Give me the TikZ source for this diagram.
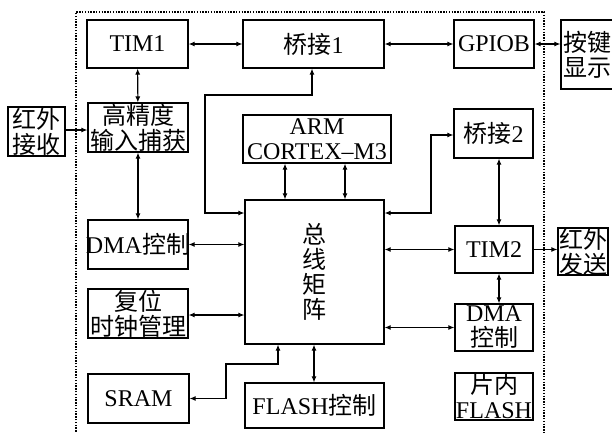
\documentclass[tikz,border=0pt]{standalone}
\usepackage{fontspec}
\setmainfont{Liberation Serif}
\newfontfamily\cjk{Noto Sans CJK SC}
\usepackage{tikz}
\usetikzlibrary{arrows.meta, positioning}
\newcommand{\zh}[1]{{\cjk #1}}

\begin{document}
\begin{tikzpicture}[x=1pt, y=-1pt, font=\fontsize{24}{25}\selectfont,
  blk/.style={draw, line width=1.2pt, inner sep=0pt, align=center},
  link/.style={line width=1.1pt, {Latex[length=6pt,width=5pt]}-{Latex[length=6pt,width=5pt]}},
  onelink/.style={line width=1.1pt, -{Latex[length=6pt,width=5pt]}}]
\useasboundingbox (0,0) rectangle (612,432);
\draw[line width=1.2pt, dash pattern=on 1.4pt off 1.4pt] (76,440) |- (544,12) -- (544,440);
\node[blk, minimum width=101pt, minimum height=48pt] (tim1) at (137.5,44) {TIM1};
\node[blk, minimum width=141pt, minimum height=48pt] (bridgeA) at (313.5,44) {\zh{桥接}1};
\node[blk, minimum width=80pt, minimum height=48pt] (gpiob) at (494,44) {GPIOB};
\node[blk, minimum width=53pt, minimum height=69pt] (keydisp) at (587.5,54.5) {\zh{按键}\\\zh{显示}};
\node[blk, minimum width=57pt, minimum height=49pt] (irrx) at (36.5,131.5) {\zh{红外}\\\zh{接收}};
\node[blk, minimum width=100pt, minimum height=49pt] (capture) at (138,127.5) {\zh{高精度}\\\zh{输入捕获}};
\node[blk, minimum width=148pt, minimum height=48pt] (arm) at (317,139) {ARM\\CORTEX–M3};
\node[blk, minimum width=79pt, minimum height=49pt] (bridgeB) at (493.5,133.5) {\zh{桥接}2};
\node[blk, minimum width=139pt, minimum height=144pt] (bus) at (314.5,272) {\zh{总}\\\zh{线}\\\zh{矩}\\\zh{阵}};
\node[blk, minimum width=100pt, minimum height=49pt] (dmaL) at (138,244.5) {\makebox[90pt]{DMA\zh{控制}}};
\node[blk, minimum width=78pt, minimum height=47pt] (tim2) at (494,249.5) {TIM2};
\node[blk, minimum width=50pt, minimum height=47pt] (irtx) at (583,251.5) {\zh{红外}\\\zh{发送}};
\node[blk, minimum width=100pt, minimum height=49pt] (rcc) at (138,313.5) {\zh{复位}\\\zh{时钟管理}};
\node[blk, minimum width=78pt, minimum height=47pt] (dmaR) at (494,327.5) {DMA\\\zh{控制}};
\node[blk, minimum width=101pt, minimum height=49pt] (sram) at (138.5,398.5) {SRAM};
\node[blk, minimum width=139pt, minimum height=45pt] (flashc) at (314.5,405.5) {FLASH\zh{控制}};
\node[blk, minimum width=78pt, minimum height=47pt] (flashin) at (494,396.5) {\zh{片内}\\FLASH};
\draw[link] (tim1) -- (bridgeA);
\draw[link] (bridgeA) -- (gpiob);
\draw[link] (gpiob.east) -- (gpiob.east -| keydisp.west);
\draw[link] (tim1) -- (capture);
\draw[onelink] (irrx.east |- 0,130) -- (capture.west |- 0,130);
\draw[link] (capture) -- (dmaL);
\draw[link] (bridgeA.south -| 312,0) |- (205,95) |- (bus.west |- 0,213);
\draw[link] (arm.south -| 285,0) -- (bus.north -| 285,0);
\draw[link] (arm.south -| 345,0) -- (bus.north -| 345,0);
\draw[link] (bus.east |- 0,213) -| (431,135) -- (bridgeB.west |- 0,135);
\draw[link] (bridgeB.south -| 499,0) -- (tim2.north -| 499,0);
\draw[link] (bus.east |- tim2.west) -- (tim2.west);
\draw[onelink] (tim2.east) -- (irtx.west |- tim2.east);
\draw[link] (tim2.south -| 499,0) -- (dmaR.north -| 499,0);
\draw[link] (bus.east |- dmaR.west) -- (dmaR.west);
\draw[link] (dmaL.east) -- (bus.west |- dmaL.east);
\draw[link] (rcc.east |- 0,315) -- (bus.west |- 0,315);
\draw[link] (sram.east) -| (226,364) -| (bus.south -| 278,0);
\draw[link] (bus.south -| 314,0) -- (flashc.north -| 314,0);
\end{tikzpicture}
\end{document}
